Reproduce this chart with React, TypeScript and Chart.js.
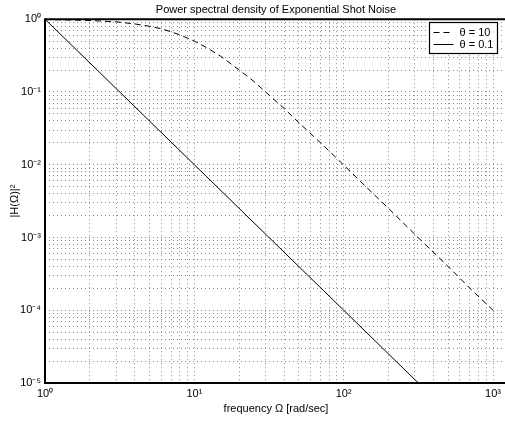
import React, { useEffect, useRef } from 'react';
import { Chart, registerables } from 'chart.js';

Chart.register(...registerables);

// Frequency samples [rad/sec] and spectral density for each decay rate
const freqTheta10 = [1, 2, 3, 4, 5, 6, 7, 8, 10, 12, 15, 20, 25, 30, 40, 50, 70, 100, 150, 200, 300, 500, 700, 1000];
const psdTheta10 = [0.99, 0.96, 0.92, 0.86, 0.8, 0.74, 0.67, 0.61, 0.5, 0.41, 0.31, 0.2, 0.14, 0.1, 0.059, 0.038, 0.02, 0.0099, 0.0044, 0.0025, 0.0011, 0.0004, 0.0002, 0.0001];
const freqTheta01 = [1, 10, 100, 316];
const psdTheta01 = [1, 0.01, 0.0001, 0.00001];

const seriesLabels = ['θ = 10', 'θ = 0.1'];
const chartTitle = 'Power spectral density of Exponential Shot Noise';
const xAxisTitle = 'frequency Ω [rad/sec]';
const yAxisTitle = '|H(Ω)|²';

// Decade exponents carrying tick labels
const xDecades = [0, 1, 2, 3];
const yDecades = [-5, -4, -3, -2, -1, 0];

const X_MIN = 1;
const X_MAX = 1240;
const Y_MIN = 1e-5;
const Y_MAX = 1;

const FONT_FAMILY = '"Liberation Sans", Arial, Helvetica, sans-serif';
const SUP: Record<string, string> = { '0': '⁰', '1': '¹', '2': '²', '3': '³', '4': '⁴', '5': '⁵', '-': '⁻' };

const decadeLabel = (exp: number) => '10' + String(exp).split('').map((c) => SUP[c] ?? c).join('');

// 1..9 subdivisions inside each decade, for the dotted grid
const logTicks = (decades: number[], max: number) => {
  const out: number[] = [];
  decades.forEach((d) => {
    for (let m = 1; m <= 9; m++) {
      const v = parseFloat((m * Math.pow(10, d)).toPrecision(6));
      if (v <= max * 1.0000001) out.push(v);
    }
  });
  return Array.from(new Set(out)).sort((a, b) => a - b);
};

const isDecade = (v: number) => Math.abs(Math.log10(v) - Math.round(Math.log10(v))) < 1e-6;

const framePlugin = {
  id: 'axesFrame',
  afterDatasetsDraw(chart: any) {
    const { ctx, chartArea } = chart;
    const { left, right, top, bottom } = chartArea;
    ctx.save();
    ctx.strokeStyle = '#000';
    ctx.lineWidth = 2;
    ctx.beginPath();
    ctx.moveTo(right + 2, top);
    ctx.lineTo(left, top);
    ctx.lineTo(left, bottom);
    ctx.lineTo(right + 2, bottom);
    ctx.stroke();
    ctx.restore();
  },
};

const boxedLegendPlugin = {
  id: 'boxedLegend',
  afterDraw(chart: any) {
    const { ctx } = chart;
    const bx = 429.5;
    const by = 22.5;
    const bw = 68;
    const bh = 31;
    ctx.save();
    ctx.fillStyle = '#fff';
    ctx.fillRect(bx, by, bw, bh);
    ctx.strokeStyle = '#000';
    ctx.lineWidth = 1.2;
    ctx.setLineDash([]);
    ctx.strokeRect(bx, by, bw, bh);
    ctx.font = `11px ${FONT_FAMILY}`;
    ctx.textBaseline = 'middle';
    ctx.textAlign = 'left';
    chart.data.datasets.forEach((ds: any, i: number) => {
      const y = by + 10 + i * 12;
      ctx.strokeStyle = ds.borderColor;
      ctx.lineWidth = ds.borderWidth;
      ctx.setLineDash(ds.borderDash || []);
      ctx.beginPath();
      ctx.moveTo(bx + 4, y);
      ctx.lineTo(bx + 24, y);
      ctx.stroke();
      ctx.setLineDash([]);
      ctx.fillStyle = '#000';
      ctx.fillText(ds.label, bx + 30, y + 0.5);
    });
    ctx.restore();
  },
};

export default function App() {
  const canvasRef = useRef<HTMLCanvasElement | null>(null);

  useEffect(() => {
    if (!canvasRef.current) return;
    const xTickValues = logTicks(xDecades, 1000);
    const yTickValues = logTicks(yDecades.slice(0, -1), 1).concat([1]);
    const font = { family: FONT_FAMILY, size: 11 };

    const gridStyle = { color: '#8a8a8a', lineWidth: 1, drawTicks: false };

    const chart = new Chart(canvasRef.current, {
      type: 'line',
      data: {
        datasets: [
          {
            label: seriesLabels[0],
            data: freqTheta10.map((f, i) => ({ x: f, y: psdTheta10[i] })),
            borderColor: '#000',
            borderWidth: 1,
            borderDash: [6, 4],
            pointRadius: 0,
            tension: 0,
            fill: false,
          },
          {
            label: seriesLabels[1],
            data: freqTheta01.map((f, i) => ({ x: f, y: psdTheta01[i] })),
            borderColor: '#000',
            borderWidth: 1,
            pointRadius: 0,
            tension: 0,
            fill: false,
          },
        ],
      },
      options: {
        animation: false,
        responsive: false,
        devicePixelRatio: 1,
        layout: { padding: { top: 0, right: 13, left: 0, bottom: 0 } },
        plugins: {
          legend: { display: false },
          tooltip: { enabled: false },
          title: {
            display: true,
            text: chartTitle,
            fullSize: false,
            color: '#000',
            font: { ...font, weight: 'normal' },
            padding: { top: 3, bottom: 3 },
          },
        },
        scales: {
          x: {
            type: 'logarithmic',
            min: X_MIN,
            max: X_MAX,
            afterBuildTicks: (scale: any) => {
              scale.ticks = xTickValues.map((v) => ({ value: v, major: isDecade(v) }));
            },
            afterFit: (scale: any) => {
              scale.height = 41;
            },
            grid: gridStyle,
            border: { display: false, dash: [1, 3] },
            ticks: {
              autoSkip: false,
              maxRotation: 0,
              minRotation: 0,
              padding: 4,
              color: '#000',
              font,
              callback: (v: any) => (isDecade(Number(v)) ? decadeLabel(Math.round(Math.log10(Number(v)))) : ''),
            },
            title: {
              display: true,
              text: xAxisTitle,
              color: '#000',
              font,
              padding: { top: 0, bottom: 8 },
            },
          },
          y: {
            type: 'logarithmic',
            min: Y_MIN,
            max: Y_MAX,
            afterBuildTicks: (scale: any) => {
              scale.ticks = yTickValues.map((v) => ({ value: v, major: isDecade(v) }));
            },
            afterFit: (scale: any) => {
              scale.width = 45;
            },
            grid: gridStyle,
            border: { display: false, dash: [1, 3] },
            ticks: {
              autoSkip: false,
              padding: 4,
              color: '#000',
              font,
              callback: (v: any) => (isDecade(Number(v)) ? decadeLabel(Math.round(Math.log10(Number(v)))) : ''),
            },
            title: {
              display: true,
              text: yAxisTitle,
              color: '#000',
              font,
              padding: { top: 8, bottom: 0 },
            },
          },
        },
      },
      plugins: [framePlugin, boxedLegendPlugin],
    } as any);

    return () => chart.destroy();
  }, []);

  return (
    <div
      style={{
        position: 'absolute',
        left: 0,
        top: 0,
        width: 505,
        height: 424,
        overflow: 'hidden',
        background: '#fff',
      }}
    >
      <canvas ref={canvasRef} width={520} height={424} style={{ display: 'block' }} />
    </div>
  );
}
